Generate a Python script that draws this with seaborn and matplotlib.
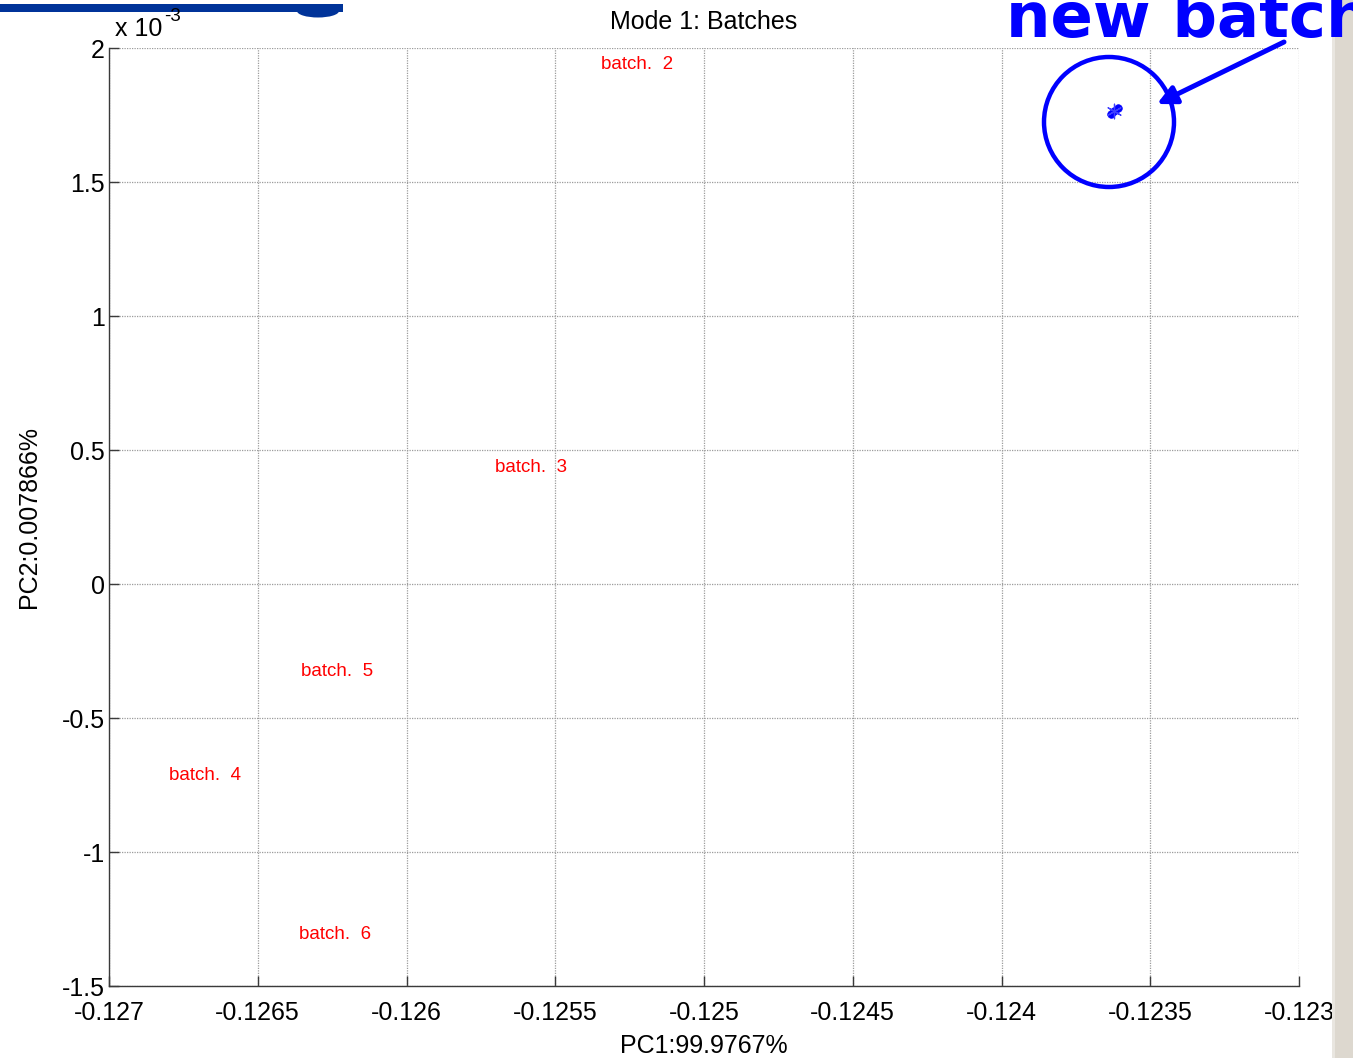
import numpy as np
import pandas as pd
import seaborn as sns
import matplotlib
matplotlib.use("Agg")
import matplotlib.pyplot as plt
from matplotlib.patches import Rectangle, Ellipse, FancyArrowPatch

# Batch scores on the first two principal components (PC2 in units of 1e-3)
batch_names = ["batch.  2", "batch.  3", "batch.  4", "batch.  5", "batch.  6"]
batch_pc1 = [-0.125346, -0.125703, -0.126798, -0.126355, -0.126361]
batch_pc2 = [1.940, 0.433, -0.716, -0.328, -1.306]

# Scores of the new batch
new_pc1 = [-0.1236319, -0.1236218, -0.1236084]
new_pc2 = [1.7537, 1.7649, 1.7761]

x_ticks = [-0.127, -0.1265, -0.126, -0.1255, -0.125, -0.1245, -0.124, -0.1235, -0.123]
x_tick_labels = ["-0.127", "-0.1265", "-0.126", "-0.1255", "-0.125", "-0.1245", "-0.124", "-0.1235", "-0.123"]
y_ticks = [-1.5, -1, -0.5, 0, 0.5, 1, 1.5, 2]
y_tick_labels = ["-1.5", "-1", "-0.5", "0", "0.5", "1", "1.5", "2"]

W, H = 1353, 1058
sns.set_theme(style="white")
plt.rcParams["font.family"] = ["Liberation Sans", "DejaVu Sans"]
plt.rcParams["text.color"] = "black"
plt.rcParams["axes.labelcolor"] = "black"
plt.rcParams["axes.titlecolor"] = "black"

fig = plt.figure(figsize=(W / 100, H / 100), dpi=100)
ax = fig.add_axes([109 / W, 1 - 986 / H, (1299 - 109) / W, (986 - 48) / H])
ax.set_facecolor("white")

new_df = pd.DataFrame({"pc1": new_pc1, "pc2": np.array(new_pc2) * 1e-3})
sns.scatterplot(data=new_df, x="pc1", y="pc2", ax=ax, marker="o", s=30,
                color="#0000ff", edgecolor="#0000ff", linewidth=0.5, zorder=5)
sns.scatterplot(data=new_df.iloc[[1]], x="pc1", y="pc2", ax=ax, marker=(6, 2, 0),
                s=110, color="#4040ff", linewidth=0.9, zorder=6)

for name, px, py in zip(batch_names, batch_pc1, batch_pc2):
    ax.text(px, py * 1e-3, name, color="#ff0000", fontsize=13.5,
            ha="left", va="center", zorder=4)

ax.set_xlim(-0.127, -0.123)
ax.set_ylim(-1.5e-3, 2e-3)
ax.set_xticks(x_ticks)
ax.set_xticklabels(x_tick_labels)
ax.set_yticks(np.array(y_ticks) * 1e-3)
ax.set_yticklabels(y_tick_labels)

ax.grid(True, color="#9c9c9c", linestyle=(0, (1, 1)), linewidth=0.9)
ax.set_axisbelow(True)
for side in ["top", "right"]:
    ax.spines[side].set_visible(False)
for side in ["left", "bottom"]:
    ax.spines[side].set_color("#3a3a3a")
    ax.spines[side].set_linewidth(1.0)

ax.tick_params(axis="both", direction="in", length=7, width=1.0,
               colors="#3a3a3a", labelcolor="black", labelsize=18)
ax.tick_params(axis="x", pad=11, bottom=True)
ax.tick_params(axis="y", pad=3, left=True)

ax.set_xlabel("PC1:99.9767%", fontsize=18, labelpad=6)
ax.set_ylabel("PC2:0.007866%", fontsize=18, labelpad=15)
ax.set_title("Mode 1: Batches", fontsize=18, pad=14)

# Header bar at the top left
fig.add_artist(Rectangle((0, 1 - 12 / H), 343 / W, 8 / H,
                         transform=fig.transFigure, color="#003399",
                         linewidth=0, zorder=10))
fig.add_artist(Ellipse((318 / W, 1 - 11 / H), 42 / W, 13 / H,
                       transform=fig.transFigure, color="#003399",
                       linewidth=0, zorder=10))

# Scale factor for the PC2 axis
fig.text(115 / W, 1 - 36 / H, "x 10", fontsize=18, ha="left", va="baseline",
         zorder=13)
fig.text(164 / W, 1 - 21 / H, "-3", fontsize=13.5, ha="left", va="baseline",
         zorder=13)

# Window border strip on the right
fig.add_artist(Rectangle((1332 / W, 0), 21 / W, 1,
                         transform=fig.transFigure, color="#ddd8cf",
                         linewidth=0, zorder=11))
fig.add_artist(Rectangle((1332 / W, 0), 3 / W, 1,
                         transform=fig.transFigure, color="#e9e6e0",
                         linewidth=0, zorder=12))

# Highlight of the new batch
fig.add_artist(Ellipse((1109 / W, 1 - 122 / H), 130 / W, 130 / H,
                       transform=fig.transFigure, fill=False,
                       edgecolor="#0000ff", linewidth=3.2, zorder=13))
fig.add_artist(FancyArrowPatch((1284 / W, 1 - 42 / H), (1157 / W, 1 - 104 / H),
                               transform=fig.transFigure, arrowstyle="-|>",
                               mutation_scale=28, color="#0000ff",
                               linewidth=3.6, shrinkA=0, shrinkB=0, zorder=13))
fig.text(1006 / W, 1 - 37 / H, "new batch", fontsize=45, fontweight="bold",
         color="#0000ff", ha="left", va="baseline",
         family=["DejaVu Sans"], zorder=14)

fig.savefig("out.png", dpi=100)
